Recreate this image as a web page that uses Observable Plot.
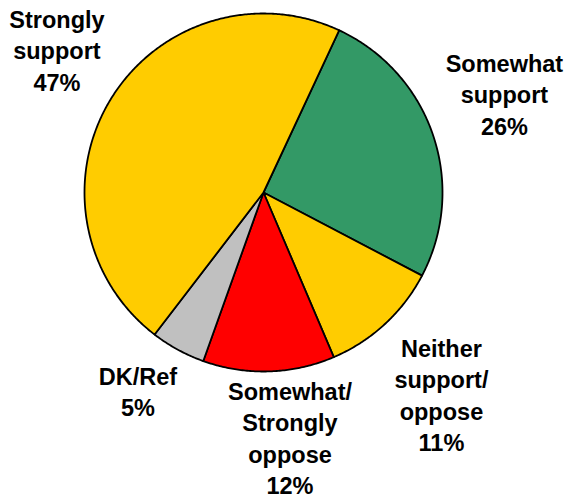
<!DOCTYPE html>
<html>
<head>
<meta charset="utf-8">
<script src="https://cdn.jsdelivr.net/npm/d3@7"></script>
<script src="https://cdn.jsdelivr.net/npm/@observablehq/plot@0.6"></script>
<style>
  html, body { margin: 0; padding: 0; background: #fff; }
  #chart svg { display: block; }
</style>
</head>
<body>
<div id="chart"></div>
<script>
// ---- data ----
const categories = ["Somewhat support", "Neither support/ oppose", "Somewhat/ Strongly oppose", "DK/Ref", "Strongly support"];
const values = [26, 11, 12, 5, 47];
const labels = ["Somewhat\nsupport\n26%", "Neither\nsupport/\noppose\n11%", "Somewhat/\nStrongly\noppose\n12%", "DK/Ref\n5%", "Strongly\nsupport\n47%"];
const colors = ["#339966", "#FFCC00", "#FF0000", "#C0C0C0", "#FFCC00"];

// ---- layout (label anchors in chart units, start angle) ----
const startDeg = 25;
const labelX = [1.346, 0.994, 0.148, -0.701, -1.154];
const labelY = [0.799, -0.793, -1.033, -0.949, 1.045];

// build slice polygons from values
const total = d3.sum(values);
const pts = [];
let a0 = startDeg;
values.forEach((v, i) => {
  const span = v / total * 360;
  const a1 = a0 + span;
  const n = Math.max(2, Math.ceil(span / 0.5));
  pts.push({k: categories[i], c: colors[i], x: 0, y: 0});
  for (let j = 0; j <= n; j++) {
    const t = (a0 + span * j / n) * Math.PI / 180;
    pts.push({k: categories[i], c: colors[i], x: Math.sin(t), y: Math.cos(t)});
  }
  pts.push({k: categories[i], c: colors[i], x: 0, y: 0});
  a0 = a1;
});

const labelData = categories.map((k, i) => ({k, text: labels[i], x: labelX[i], y: labelY[i]}));

const chart = Plot.plot({
  width: 566,
  height: 502,
  marginLeft: 84,
  marginRight: 124,
  marginTop: 13,
  marginBottom: 131,
  x: {domain: [-1, 1], axis: null},
  y: {domain: [-1, 1], axis: null},
  color: {type: "identity"},
  style: {background: "#fff", overflow: "visible"},
  marks: [
    Plot.line(pts, {x: "x", y: "y", z: "k", fill: "c", stroke: "#000", strokeWidth: 1.8, strokeLinejoin: "round"}),
    Plot.text(labelData, {
      x: "x", y: "y", text: "text",
      lineAnchor: "top", lineHeight: 1.34,
      fontSize: 23.5, fontWeight: "bold",
      fontFamily: "Liberation Sans, Arial, sans-serif",
      fill: "#000", textAnchor: "middle"
    })
  ]
});
document.getElementById("chart").appendChild(chart);
</script>
</body>
</html>
